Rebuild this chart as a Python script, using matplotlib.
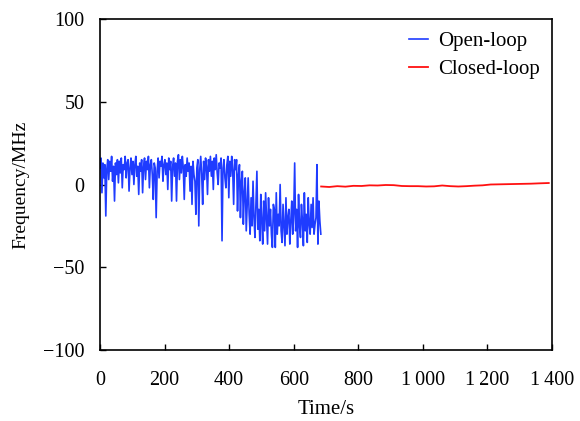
import matplotlib
matplotlib.use("Agg")
import matplotlib.pyplot as plt
import numpy as np

plt.rcParams['font.family'] = ['Liberation Serif', 'DejaVu Serif']

# Open-loop samples (every 3 s from 0 to 684 s)
open_t = list(range(0, 685, 3))
open_f = [
    10, 16, -5, 13, 4, 12, -19, 9, 15, 3, 14, 8, 17, 2, 11, -10, 13, 6, 15, 1,
    14, 7, 16, -2, 12, 9, 17, 4, 13, 15, -4, 10, 16, 6, 14, 0, 12, 17, 5, 11,
    -6, 13, 8, 15, -5, 11, 16, 3, 14, 9, 17, -2, 12, 15, 6, -9, 13, 10, -20, 8,
    16, 4, 14, 11, 17, 2, 12, 15, 6, 13, -3, 16, 9, 14, -10, 11, 16, 5, 13, -10,
    14, 18, 3, 15, 7, 17, 10, -9, 12, 5, 16, 8, 13, -4, 11, -12, 14, 6, 2, -18,
    10, 15, -25, 9, 17, 6, -12, 14, 3, 16, 11, -6, 15, 8, 17, 5, 14, -3, 16, 9,
    18, 7, 0, 13, 10, 16, -34, 10, 15, 4, -2, 12, 17, -8, 14, 5, 17, 9, -12, 15,
    9, 15, -16, 6, 12, -20, 2, 8, -24, -5, 4, -28, -12, 4, -18, -30, -8, -25, 2, -20,
    -32, -12, 8, -27, -15, -34, -6, -22, -36, -10, -28, -5, -20, -36, -8, -25, -15, -30, -38, -12,
    -15, -38, -5, -30, -18, -25, 0, -28, -35, -12, -24, -37, -8, -30, -20, -15, -36, -22, -10, -30,
    -18, 13, -28, -15, -38, -6, -25, -32, -12, -22, -37, -5, -28, -18, -35, -8, -24, -30, -12, -26,
    -8, -30, -24, -20, 12, -36, -10, -22, -30,
]

# Closed-loop samples
closed_t = [685, 710, 735, 760, 785, 810, 835, 860, 885, 910, 935, 960, 985, 1010,
            1035, 1060, 1085, 1110, 1135, 1160, 1185, 1210, 1235, 1260, 1285, 1310,
            1335, 1360, 1390]
closed_f = [-1.2, -1.5, -1.0, -1.3, -0.8, -0.9, -0.5, -0.6, -0.3, -0.4, -0.9, -1.0,
            -1.0, -1.2, -1.1, -0.6, -1.0, -1.2, -1.0, -0.7, -0.5, 0.0, 0.1, 0.2, 0.3,
            0.4, 0.5, 0.7, 0.9]

x_ticks = [0, 200, 400, 600, 800, 1000, 1200, 1400]
x_labels = ['0', '200', '400', '600', '800', '1\u2009000', '1\u2009200', '1\u2009400']
y_ticks = [-100, -50, 0, 50, 100]
y_labels = ['\u2212100', '\u221250', '0', '50', '100']

fig = plt.figure(figsize=(5.8, 4.21), dpi=100)
ax = fig.add_axes([0.1724, 0.1686, 0.7793, 0.7863])

ax.plot(open_t, open_f, color='#1f3cff', lw=1.2, label='Open-loop')
ax.plot(closed_t, closed_f, color='#ff1010', lw=1.3, label='Closed-loop')

ax.set_xlim(0, 1400)
ax.set_ylim(-100, 100)
ax.set_xticks(x_ticks)
ax.set_xticklabels(x_labels)
ax.set_yticks(y_ticks)
ax.set_yticklabels(y_labels)
ax.tick_params(axis='x', direction='in', length=4, width=1, labelsize=14.5, pad=15)
ax.tick_params(axis='y', direction='in', length=4, width=1, labelsize=14.5, pad=11)
for s in ax.spines.values():
    s.set_linewidth(1.2)

ax.set_xlabel('Time/s', fontsize=15, labelpad=7)
ax.set_ylabel('Frequency/MHz', fontsize=14, labelpad=10)

ax.legend(loc='upper right', frameon=False, fontsize=15, handlelength=0.95,
          handletextpad=0.45, borderaxespad=0.2, labelspacing=0.4,
          bbox_to_anchor=(1.0, 1.0))

fig.savefig('out.png', dpi=100)
